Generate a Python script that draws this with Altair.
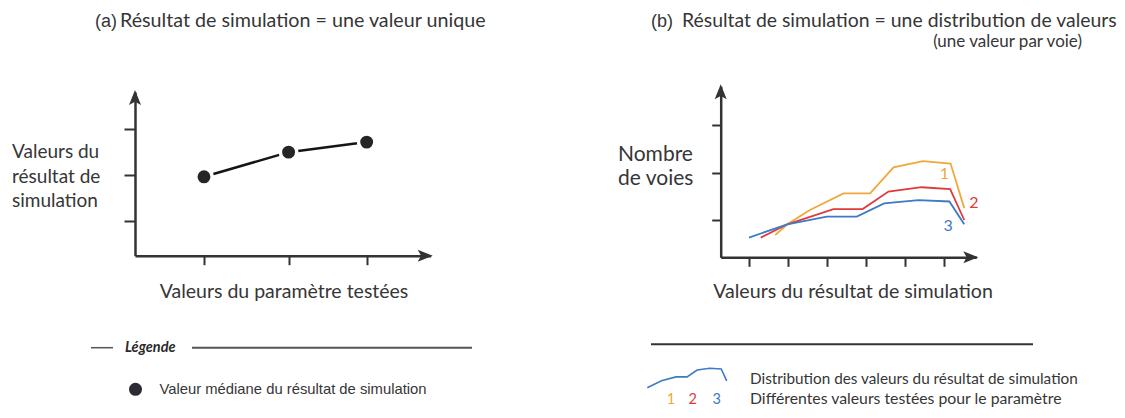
import altair as alt
import pandas as pd

# ---------------- data ----------------
# panel (a): one median value per tested parameter value
A_PARAM_VALUES = [1.0, 2.04, 3.0]
A_MEDIANS = [1.96, 2.50, 2.72]
A_Y_TICKS = [1, 2, 3]

# panel (b): distribution (number of lanes per result bin), one curve per parameter value
B_X_TICKS = [1, 2, 3, 4, 5, 6]
B_Y_TICKS = [1, 2, 3]
SERIES = ["1", "2", "3"]
B1_X = [1.67, 1.98, 2.56, 3.42, 4.10, 4.70, 5.45, 6.16, 6.51]
B1_Y = [0.68, 0.91, 1.21, 1.56, 1.56, 2.11, 2.24, 2.19, 1.25]
B2_X = [1.30, 1.98, 3.16, 3.91, 4.57, 5.42, 6.15, 6.51]
B2_Y = [0.63, 0.91, 1.23, 1.23, 1.60, 1.69, 1.65, 1.00]
B3_X = [1.00, 1.98, 2.99, 3.76, 4.46, 5.34, 6.13, 6.51]
B3_Y = [0.63, 0.91, 1.07, 1.07, 1.35, 1.42, 1.39, 0.91]
LABEL_X = [6.00, 6.76, 6.10]
LABEL_Y = [1.96, 1.36, 0.88]

# ---------------- styles ----------------
ORANGE, RED, BLUE = "#F0A83C", "#E03A3A", "#3D7BC4"
AXC = "#333333"
TXT = "#363636"
W, H = 1109, 402


def sc(domain, rng):
    return alt.Scale(domain=domain, range=rng, nice=False, zero=False)


AX = sc([0.152, 3.787], [127, 422.7])
AY = sc([0.234, 3.816], [247.7, 84])
BX = sc([0.2755, 6.819], [712.7, 968.3])
BY = sc([0.2147, 3.815], [249.3, 78.3])
LX = sc([1.00, 6.51], [639.3, 718.7])
LY = sc([0.63, 1.42], [379.7, 360.3])

UP = "M0,-1L0.8,1L0,0.55L-0.8,1Z"
RIGHT = "M1,0L-1,0.8L-0.55,0L-1,-0.8Z"

one = pd.DataFrame({"k": [0]})


def ax_x(values, offset, tick):
    return alt.Axis(orient="bottom", offset=offset, values=values, labels=False, title="",
                    grid=False, domainColor=AXC, domainWidth=2.5, tickColor=AXC,
                    tickWidth=2, tickSize=tick)


def ax_y(values, offset, tick):
    return alt.Axis(orient="left", offset=offset, values=values, labels=False, title="",
                    grid=False, domainColor=AXC, domainWidth=2.5, tickColor=AXC,
                    tickWidth=2, tickSize=tick)


def text(s, x, y, size, font="Lato", color=TXT, align="left", style="normal", weight="normal"):
    return alt.Chart(one).mark_text(
        text=s, font=font, fontSize=size, color=color, align=align,
        baseline="alphabetic", fontStyle=style, fontWeight=weight
    ).encode(x=alt.value(x - 8), y=alt.value(y - 8))


def hrule(x1, x2, y, width=2, color="#555555"):
    return alt.Chart(one).mark_rule(color=color, strokeWidth=width).encode(
        x=alt.value(x1 - 8), x2=alt.value(x2 - 8), y=alt.value(y - 8))


layers = []

# ---------- panel (a) ----------
a_df = pd.DataFrame({"p": A_PARAM_VALUES, "m": A_MEDIANS})
a_axes = pd.DataFrame({"p": [AX.domain[0]], "m": [AY.domain[0]]})
layers.append(alt.Chart(a_axes).mark_point(opacity=0).encode(
    x=alt.X("p:Q", scale=AX, axis=ax_x(A_PARAM_VALUES, 247.7 - H, 9)),
    y=alt.Y("m:Q", scale=AY, axis=ax_y(A_Y_TICKS, -127, 11)),
))
layers.append(alt.Chart(pd.DataFrame({"p": [AX.domain[0]], "m": [AY.domain[1]]}))
              .mark_point(shape=UP, size=225, filled=True, color=AXC, opacity=1, yOffset=5.5)
              .encode(x=alt.X("p:Q", scale=AX, axis=None), y=alt.Y("m:Q", scale=AY, axis=None)))
layers.append(alt.Chart(pd.DataFrame({"p": [AX.domain[1]], "m": [AY.domain[0]]}))
              .mark_point(shape=RIGHT, size=225, filled=True, color=AXC, opacity=1, xOffset=-5.5)
              .encode(x=alt.X("p:Q", scale=AX, axis=None), y=alt.Y("m:Q", scale=AY, axis=None)))
layers.append(alt.Chart(a_df).mark_line(color="#151515", strokeWidth=2.5).encode(
    x=alt.X("p:Q", scale=AX, axis=None), y=alt.Y("m:Q", scale=AY, axis=None)))
layers.append(alt.Chart(a_df).mark_circle(size=269, fill="#262626", stroke="white",
                                          strokeWidth=3.5, opacity=1).encode(
    x=alt.X("p:Q", scale=AX, axis=None), y=alt.Y("m:Q", scale=AY, axis=None)))

# ---------- panel (b) ----------
rows = []
for s, xs, ys in zip(SERIES, [B1_X, B2_X, B3_X], [B1_Y, B2_Y, B3_Y]):
    for i, (xv, yv) in enumerate(zip(xs, ys)):
        rows.append({"s": s, "i": i, "v": xv, "n": yv})
b_df = pd.DataFrame(rows)
color_scale = alt.Scale(domain=SERIES, range=[ORANGE, RED, BLUE])

b_axes = pd.DataFrame({"v": [BX.domain[0]], "n": [BY.domain[0]]})
layers.append(alt.Chart(b_axes).mark_point(opacity=0).encode(
    x=alt.X("v:Q", scale=BX, axis=ax_x(B_X_TICKS, 249.3 - H, 9)),
    y=alt.Y("n:Q", scale=BY, axis=ax_y(B_Y_TICKS, -712.7, 9)),
))
layers.append(alt.Chart(pd.DataFrame({"v": [BX.domain[0]], "n": [BY.domain[1]]}))
              .mark_point(shape=UP, size=225, filled=True, color=AXC, opacity=1, yOffset=5.5)
              .encode(x=alt.X("v:Q", scale=BX, axis=None), y=alt.Y("n:Q", scale=BY, axis=None)))
layers.append(alt.Chart(pd.DataFrame({"v": [BX.domain[1]], "n": [BY.domain[0]]}))
              .mark_point(shape=RIGHT, size=225, filled=True, color=AXC, opacity=1, xOffset=-5.5)
              .encode(x=alt.X("v:Q", scale=BX, axis=None), y=alt.Y("n:Q", scale=BY, axis=None)))
layers.append(alt.Chart(b_df).mark_line(strokeWidth=1.8).encode(
    x=alt.X("v:Q", scale=BX, axis=None), y=alt.Y("n:Q", scale=BY, axis=None),
    color=alt.Color("s:N", scale=color_scale, legend=None), order="i:Q"))
lab_df = pd.DataFrame({"s": SERIES, "v": LABEL_X, "n": LABEL_Y})
layers.append(alt.Chart(lab_df).mark_text(font="Lato", fontSize=16, baseline="middle").encode(
    x=alt.X("v:Q", scale=BX, axis=None), y=alt.Y("n:Q", scale=BY, axis=None),
    text="s:N", color=alt.Color("s:N", scale=color_scale, legend=None)))

# ---------- titles & axis titles ----------
layers += [
    text("(a)", 95, 27, 18, font="Liberation Sans"),
    text("Résultat de simulation = une valeur unique", 120, 27, 19.7),
    text("Valeurs du", 12, 158, 19),
    text("résultat de", 12, 183, 19),
    text("simulation", 12, 207, 19),
    text("Valeurs du paramètre testées", 284, 298, 19.5, align="center"),
    text("(b)", 651, 27, 18, font="Liberation Sans"),
    text("Résultat de simulation = une distribution de valeurs", 682, 27, 19.4),
    text("(une valeur par voie)", 1082, 47, 17, align="right"),
    text("Nombre", 618, 161, 21),
    text("de voies", 618, 185, 21),
    text("Valeurs du résultat de simulation", 853, 298, 19.6, align="center"),
]

# ---------- legends ----------
layers += [
    hrule(91, 113, 347.7, 1.5),
    text("Légende", 125, 352, 14.5, style="italic", color="#2a2a2a", weight="bold"),
    hrule(192, 472, 347.7, 2),
    alt.Chart(one).mark_circle(size=170, fill="#2b2b33", opacity=1).encode(
        x=alt.value(135.5 - 8), y=alt.value(389.3 - 8)),
    text("Valeur médiane du résultat de simulation", 159.5, 394, 14.8, font="Liberation Sans"),
    hrule(651, 1033, 344.3, 2, "#333333"),
    alt.Chart(pd.DataFrame({"v": B3_X, "n": B3_Y, "i": list(range(len(B3_X)))}))
    .mark_line(color=BLUE, strokeWidth=1.6).encode(
        x=alt.X("v:Q", scale=LX, axis=None), y=alt.Y("n:Q", scale=LY, axis=None), order="i:Q"),
    text("Distribution des valeurs du résultat de simulation", 750, 384, 15.3),
    text("1", 671, 404, 14.5, color=ORANGE, align="center"),
    text("2", 692.6, 404, 14.5, color=RED, align="center"),
    text("3", 716.6, 404, 14.5, color=BLUE, align="center"),
    text("Différentes valeurs testées pour le paramètre", 750, 404, 15.8),
]

chart = alt.layer(*layers).resolve_scale(x="independent", y="independent").properties(
    width=W, height=H, padding=0, autosize=alt.AutoSizeParams(type="none"),
    background="white",
).configure_view(stroke="transparent")

chart.save("out.html", embed_options={"renderer": "svg", "actions": False})
